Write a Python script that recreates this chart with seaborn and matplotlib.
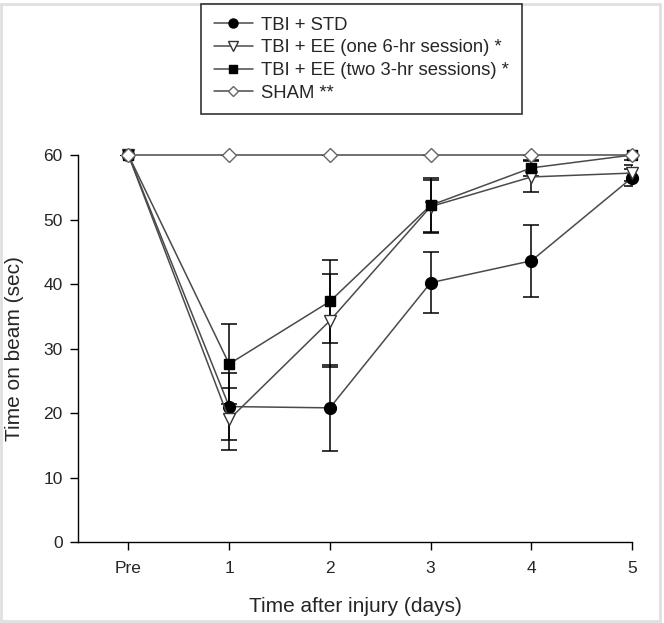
import numpy as np
import pandas as pd
import matplotlib
matplotlib.use("Agg")
import matplotlib.pyplot as plt
from matplotlib.patches import Rectangle
from matplotlib.lines import Line2D
import seaborn as sns

# data
time_labels = ["Pre", "1", "2", "3", "4", "5"]
time_pos = [0, 1, 2, 3, 4, 5]

std_mean = [60, 21.0, 20.8, 40.2, 43.6, 56.5]
std_err = [0, 5.2, 6.7, 4.7, 5.6, 1.3]

ee_one_mean = [60, 19.0, 34.3, 52.0, 56.6, 57.2]
ee_one_err = [0, 4.8, 7.2, 4.1, 2.4, 1.2]

ee_two_mean = [60, 27.6, 37.3, 52.2, 58.0, 60.0]
ee_two_err = [0, 6.2, 6.4, 4.2, 1.3, 0.8]

sham_mean = [60, 60, 60, 60, 60, 60]
sham_err = [0, 0, 0, 0, 0, 0]

series_names = ["TBI + STD", "TBI + EE (one 6-hr session) *",
                "TBI + EE (two 3-hr sessions) *", "SHAM **"]

sns.set_style("ticks")
plt.rcParams['font.family'] = ['Liberation Sans', 'DejaVu Sans']

fig = plt.figure(figsize=(6.64, 6.23), dpi=100)
ax = fig.add_axes([0.1175, 0.130, 0.8345, 0.6212])

line_color = "#4a4a4a"
styles = [
    dict(marker="o", mfc="black", mec="black", ms=8.5, lms=6.5),
    dict(marker="v", mfc="white", mec="#333333", ms=9, lms=6.5),
    dict(marker="s", mfc="black", mec="black", ms=7.5, lms=5.5),
    dict(marker="D", mfc="white", mec="#666666", ms=7, lms=5.5),
]
means = [std_mean, ee_one_mean, ee_two_mean, sham_mean]
errs = [std_err, ee_one_err, ee_two_err, sham_err]

for i, (name, m, e) in enumerate(zip(series_names, means, errs)):
    df = pd.DataFrame({"time": time_pos, "value": m})
    ax.errorbar(time_pos, m, yerr=e, fmt="none", ecolor="black",
                elinewidth=1.1, capsize=6, capthick=1.1, zorder=2)
    st = styles[i]
    sns.lineplot(data=df, x="time", y="value", ax=ax, color=line_color,
                 linewidth=1.1, marker=st["marker"], markersize=st["ms"],
                 markerfacecolor=st["mfc"], markeredgecolor=st["mec"],
                 markeredgewidth=1.0, zorder=3 + i, clip_on=False)

ax.set_xlim(-0.5, 5)
ax.set_ylim(0, 60)
ax.set_xticks(time_pos)
ax.set_xticklabels(time_labels)
ax.set_yticks([0, 10, 20, 30, 40, 50, 60])
ax.tick_params(axis="both", labelsize=12.5, length=6, width=1, color="black",
               direction="out")
ax.tick_params(axis="x", pad=8)
ax.tick_params(axis="y", pad=5)
ax.set_xlabel("Time after injury (days)", fontsize=15, labelpad=15)
ax.set_ylabel("Time on beam (sec)", fontsize=15, labelpad=14)
for side in ["top", "right"]:
    ax.spines[side].set_visible(False)
for side in ["left", "bottom"]:
    ax.spines[side].set_linewidth(1.0)
    ax.spines[side].set_color("black")

handles = [Line2D([], [], color=line_color, linewidth=1.1,
                  marker=st["marker"], markersize=st["lms"],
                  markerfacecolor=st["mfc"], markeredgecolor=st["mec"])
           for st in styles]
leg = fig.legend(handles, series_names, loc="upper left",
                 bbox_to_anchor=(201 / 664, 1 - 4 / 623), fontsize=13.3,
                 frameon=True, fancybox=False, edgecolor="black",
                 handlelength=2.1, handletextpad=0.45, labelspacing=0.3,
                 borderpad=0.7, borderaxespad=0)
leg.get_frame().set_linewidth(1.2)

fig.patches.append(Rectangle((0.002, 0.004), 0.992, 0.99, transform=fig.transFigure,
                             fill=False, edgecolor="#e0e0e0", linewidth=2))

fig.savefig("out.png", dpi=100)
